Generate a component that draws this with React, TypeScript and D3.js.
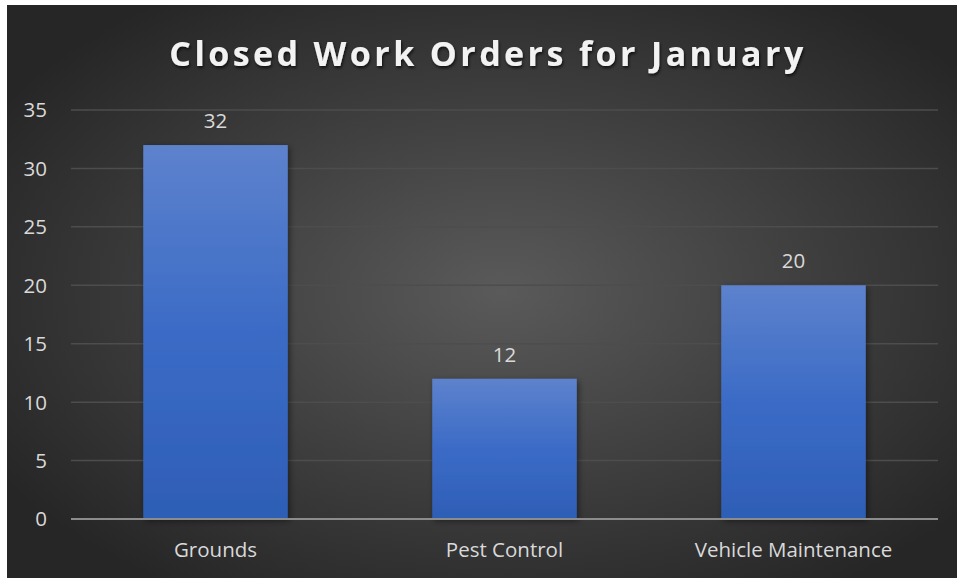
import * as d3 from "d3";
import React, { useEffect, useRef } from "react";

const categories = ["Grounds", "Pest Control", "Vehicle Maintenance"];
const values = [32, 12, 20];
const yTicks = [0, 5, 10, 15, 20, 25, 30, 35];
const title = "Closed Work Orders for January";

const App = () => {
  const svgRef = useRef<SVGSVGElement>(null);

  useEffect(() => {
    const width = 957;
    const height = 578;
    const margin = { top: 110, right: 19, bottom: 59, left: 71 };
    const font = "'Open Sans', 'Noto Sans', sans-serif";

    const svg = d3.select(svgRef.current);
    svg.selectAll("*").remove();
    svg.attr("width", width).attr("height", height);

    const defs = svg.append("defs");
    const bg = defs.append("radialGradient")
      .attr("id", "bg")
      .attr("cx", "0.52").attr("cy", "0.5").attr("r", "0.62");
    bg.append("stop").attr("offset", "0%").attr("stop-color", "#5a5a5a");
    bg.append("stop").attr("offset", "100%").attr("stop-color", "#262626");

    const barGrad = defs.append("linearGradient")
      .attr("id", "bar").attr("x1", 0).attr("y1", 0).attr("x2", 0).attr("y2", 1);
    barGrad.append("stop").attr("offset", "0%").attr("stop-color", "#5d82cd");
    barGrad.append("stop").attr("offset", "50%").attr("stop-color", "#3b6bc6");
    barGrad.append("stop").attr("offset", "100%").attr("stop-color", "#2e5eb6");

    const shadow = defs.append("filter").attr("id", "shadow")
      .attr("x", "-20%").attr("y", "-20%").attr("width", "140%").attr("height", "140%");
    shadow.append("feDropShadow")
      .attr("dx", 2).attr("dy", 2).attr("stdDeviation", 3)
      .attr("flood-color", "#000").attr("flood-opacity", 0.45);

    // Background panel
    svg.append("rect")
      .attr("x", 7).attr("y", 5)
      .attr("width", width - 7).attr("height", height - 5)
      .attr("fill", "url(#bg)");

    const x = d3.scaleBand()
      .domain(categories)
      .range([margin.left, width - margin.right])
      .paddingInner(0.5)
      .paddingOuter(0.25);

    const y = d3.scaleLinear()
      .domain([0, 35])
      .range([height - margin.bottom, margin.top]);

    // Gridlines
    svg.append("g")
      .selectAll("line")
      .data(yTicks.filter(d => d > 0))
      .enter()
      .append("line")
      .attr("x1", margin.left)
      .attr("x2", width - margin.right)
      .attr("y1", d => y(d))
      .attr("y2", d => y(d))
      .attr("stroke", "#4d4d4d")
      .attr("stroke-width", 1.5);

    // Y tick labels
    svg.append("g")
      .selectAll("text")
      .data(yTicks)
      .enter()
      .append("text")
      .attr("x", 47)
      .attr("y", d => y(d))
      .attr("dy", "0.36em")
      .attr("text-anchor", "end")
      .attr("fill", "#d9d9d9")
      .style("font-family", font)
      .style("font-size", "20.5px")
      .text(d => d);

    // Bars
    svg.append("g")
      .selectAll("rect")
      .data(values)
      .enter()
      .append("rect")
      .attr("x", (d, i) => x(categories[i])!)
      .attr("y", d => y(d))
      .attr("width", x.bandwidth())
      .attr("height", d => y(0) - y(d))
      .attr("fill", "url(#bar)")
      .attr("filter", "url(#shadow)");

    // Baseline
    svg.append("line")
      .attr("x1", margin.left)
      .attr("x2", width - margin.right)
      .attr("y1", y(0))
      .attr("y2", y(0))
      .attr("stroke", "#8c8c8c")
      .attr("stroke-width", 2);

    // Data labels
    svg.append("g")
      .selectAll("text")
      .data(values)
      .enter()
      .append("text")
      .attr("x", (d, i) => x(categories[i])! + x.bandwidth() / 2)
      .attr("y", d => y(d) - 17)
      .attr("text-anchor", "middle")
      .attr("fill", "#d9d9d9")
      .style("font-family", font)
      .style("font-size", "20.5px")
      .text(d => d);

    // Category labels
    svg.append("g")
      .selectAll("text")
      .data(categories)
      .enter()
      .append("text")
      .attr("x", d => x(d)! + x.bandwidth() / 2)
      .attr("y", 557)
      .attr("text-anchor", "middle")
      .attr("fill", "#d9d9d9")
      .style("font-family", font)
      .style("font-size", "20.5px")
      .text(d => d);

    // Title
    const titleShadow = defs.append("filter").attr("id", "tshadow")
      .attr("x", "-10%").attr("y", "-30%").attr("width", "120%").attr("height", "160%");
    titleShadow.append("feDropShadow")
      .attr("dx", 1).attr("dy", 2).attr("stdDeviation", 1.5)
      .attr("flood-color", "#000").attr("flood-opacity", 0.7);

    svg.append("text")
      .attr("x", 488)
      .attr("y", 66)
      .attr("text-anchor", "middle")
      .attr("fill", "#f2f2f2")
      .attr("filter", "url(#tshadow)")
      .style("font-family", font)
      .style("font-size", "34px")
      .style("font-weight", "bold")
      .style("letter-spacing", "3.4px")
      .text(title);
  }, []);

  return (
    <div style={{ position: "absolute", left: 0, top: 0 }}>
      <svg ref={svgRef} style={{ display: "block" }} />
    </div>
  );
};

export default App;
